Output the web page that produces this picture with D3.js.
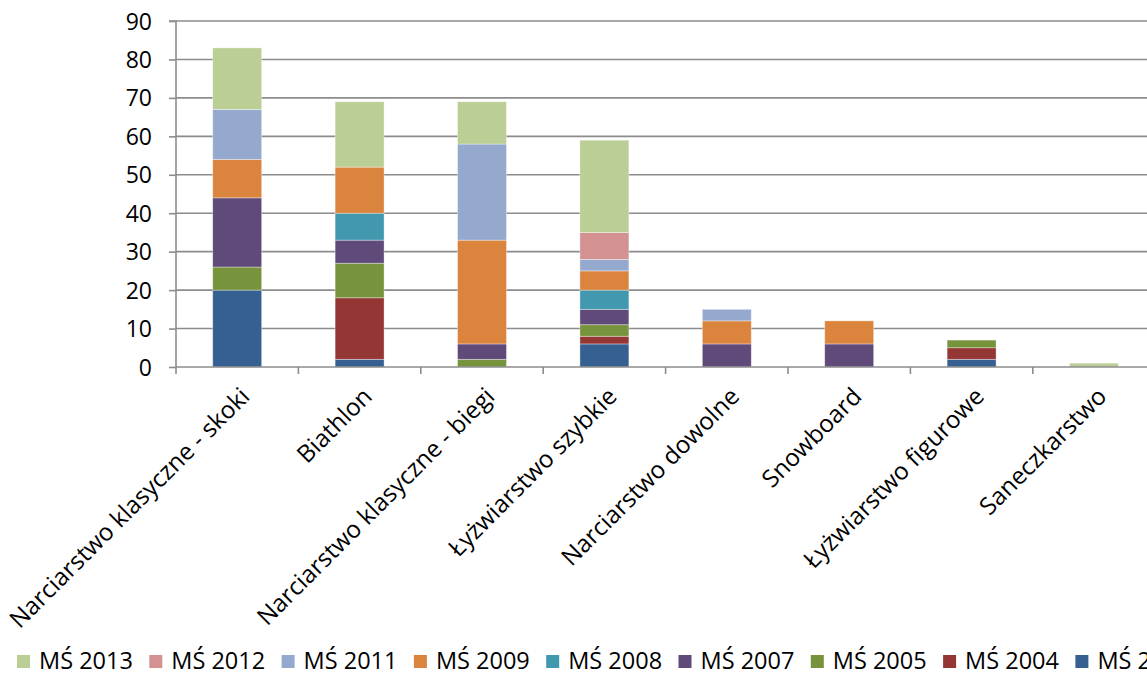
<!DOCTYPE html>
<html><head><meta charset="utf-8">
<script src="https://cdn.jsdelivr.net/npm/d3@7"></script>
<style>
html,body{margin:0;padding:0;background:#fff;overflow:hidden;}
svg text{font-family:"Open Sans","Noto Sans",sans-serif;fill:#000;}
</style></head><body>
<svg id="c" width="1147" height="673"></svg>
<script>
const categories = ["Narciarstwo klasyczne - skoki","Biathlon","Narciarstwo klasyczne - biegi","Łyżwiarstwo szybkie","Narciarstwo dowolne","Snowboard","Łyżwiarstwo figurowe","Saneczkarstwo"];
// series listed bottom-to-top
const seriesNames = ["MŚ 2003","MŚ 2004","MŚ 2005","MŚ 2007","MŚ 2008","MŚ 2009","MŚ 2011","MŚ 2012","MŚ 2013"];
const ms2003 = [20, 2, 0, 6, 0, 0, 2, 0];
const ms2004 = [0, 16, 0, 2, 0, 0, 3, 0];
const ms2005 = [6, 9, 2, 3, 0, 0, 2, 0];
const ms2007 = [18, 6, 4, 4, 6, 6, 0, 0];
const ms2008 = [0, 7, 0, 5, 0, 0, 0, 0];
const ms2009 = [10, 12, 27, 5, 6, 6, 0, 0];
const ms2011 = [13, 0, 25, 3, 3, 0, 0, 0];
const ms2012 = [0, 0, 0, 7, 0, 0, 0, 0];
const ms2013 = [16, 17, 11, 24, 0, 0, 0, 1];
const seriesValues = [ms2003, ms2004, ms2005, ms2007, ms2008, ms2009, ms2011, ms2012, ms2013];
const seriesColors = ["#366092","#943634","#77933C","#5F4A7A","#4298AF","#DB843D","#95A9CF","#D39191","#BACE95"];
const legendOrder = ["MŚ 2013","MŚ 2012","MŚ 2011","MŚ 2009","MŚ 2008","MŚ 2007","MŚ 2005","MŚ 2004","MŚ 2003"];
const yTicks = [0,10,20,30,40,50,60,70,80,90];

const svg = d3.select("#c");
const plotLeft = 176, bandW = 122.4, plotTop = 21, plotBottom = 367;
const x = d3.scaleBand().domain(categories).range([plotLeft, plotLeft + bandW*categories.length]).paddingInner(0.6).paddingOuter(0.3);
const y = d3.scaleLinear().domain([0, 90]).range([plotBottom, plotTop]);

// gridlines
svg.append("g").selectAll("line").data(yTicks.filter(d=>d>0)).join("line")
  .attr("x1", plotLeft).attr("x2", 1160).attr("y1", d=>y(d)).attr("y2", d=>y(d))
  .attr("stroke", "#8c8c8c").attr("stroke-width", 1.6);

// stacked data
const table = categories.map((c,i)=>{const o={cat:c}; seriesNames.forEach((s,j)=>o[s]=seriesValues[j][i]); return o;});
const stacked = d3.stack().keys(seriesNames)(table);
const g = svg.append("g");
stacked.forEach((layer, j)=>{
  g.append("g").attr("fill", seriesColors[j]).selectAll("rect").data(layer.filter(d=>d[1]-d[0]>0)).join("rect")
    .attr("x", d=>x(d.data.cat)).attr("width", x.bandwidth())
    .attr("y", d=>y(d[1])).attr("height", d=>y(d[0])-y(d[1]))
    .attr("stroke", "rgba(255,255,255,0.45)").attr("stroke-width", 0.8);
});

// y axis
const yAxis = d3.axisLeft(y).tickValues(yTicks).tickSize(7).tickPadding(17);
const ya = svg.append("g").attr("transform", `translate(${plotLeft},0)`).call(yAxis);
ya.select(".domain").attr("stroke", "#8c8c8c").attr("stroke-width", 1.6).attr("d", `M-7,${plotTop}H0V${plotBottom}`);
ya.selectAll(".tick line").attr("stroke", "#8c8c8c").attr("stroke-width", 1.6);
ya.selectAll(".tick text").attr("font-size", 23).attr("font-family", "'Open Sans',sans-serif").attr("dy", "0.35em");

// x axis line and ticks at band boundaries
svg.append("line").attr("x1", plotLeft).attr("x2", 1160).attr("y1", plotBottom).attr("y2", plotBottom)
  .attr("stroke", "#8c8c8c").attr("stroke-width", 1.6);
svg.append("g").selectAll("line").data(d3.range(categories.length+1)).join("line")
  .attr("x1", i=>plotLeft + i*bandW).attr("x2", i=>plotLeft + i*bandW)
  .attr("y1", plotBottom).attr("y2", plotBottom+7).attr("stroke", "#8c8c8c").attr("stroke-width", 1.6);

// category labels
svg.append("g").selectAll("text").data(categories).join("text")
  .attr("transform", d=>`translate(${x(d)+x.bandwidth()/2+2},${386}) rotate(-45)`)
  .attr("text-anchor", "end").attr("dy", "0.7em").attr("font-size", 24.2).text(d=>d);

// legend
const lg = svg.append("g").selectAll("g").data(legendOrder).join("g")
  .attr("transform", (d,i)=>`translate(${17 + i*132.3},655)`);
lg.append("rect").attr("width", 13).attr("height", 13)
  .attr("fill", d=>seriesColors[seriesNames.indexOf(d)]);
lg.append("text").attr("x", 22).attr("y", 14).attr("font-size", 23.5).text(d=>d);
</script></body></html>
